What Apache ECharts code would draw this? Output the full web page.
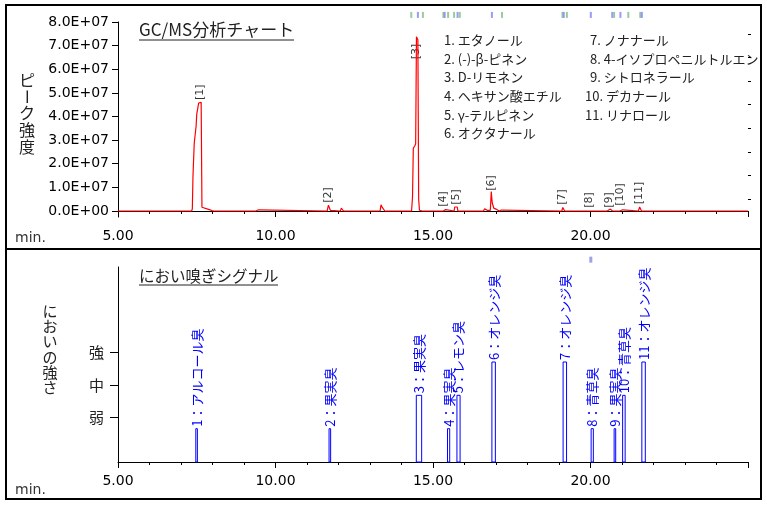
<!DOCTYPE html>
<html><head><meta charset="utf-8">
<script src="https://cdn.jsdelivr.net/npm/echarts@6/dist/echarts.min.js"></script>
<style>html,body{margin:0;padding:0;background:#fff}#c{width:767px;height:506px}</style>
</head><body><div id="c"></div>
<script>
// ---- Chromatogram (GC/MS) trace ----
const rtTimes = [5.00,7.34,7.36,7.375,7.38,7.41,7.42,7.47,7.48,7.50,7.55,7.56,7.64,7.665,7.70,7.90,7.98,8.05,
  9.38,9.42,9.46,9.50,11.64,11.68,11.71,11.74,11.80,12.06,12.09,12.13,12.16,12.89,12.92,12.95,
  13.32,13.35,13.39,13.43,13.47,14.32,14.34,14.35,14.37,14.375,14.42,14.45,14.475,14.50,14.52,14.545,14.57,14.62,14.66,14.70,14.74,
  15.33,15.36,15.40,15.43,15.67,15.69,15.77,15.79,16.40,16.43,16.46,16.60,16.64,16.69,16.72,
  16.82,16.85,16.87,16.88,16.93,16.97,17.00,17.05,17.10,17.17,17.20,
  19.09,19.12,19.15,19.18,19.61,19.64,19.67,20.32,20.35,20.38,20.53,20.56,20.59,20.63,20.67,20.70,
  20.93,20.97,21.02,21.06,21.52,21.56,21.59,21.62,25.00];
const rtIntensity = [0,0,1.0e6,1.2e6,1.46e7,1.5e7,2.87e7,2.95e7,3.6e7,4.1e7,4.15e7,4.57e7,4.6e7,1.6e6,1.0e6,0.6e6,0.2e6,0,
  0,0.8e6,0.5e6,0,0,2.5e6,2.3e6,0.3e6,0,0,1.2e6,1.1e6,0,0,0.4e6,0,
  0,2.6e6,1.5e6,1.3e6,0,0,0.3e6,6.0e6,6.2e6,2.66e7,2.75e7,2.85e7,7.38e7,7.30e7,7.25e7,0.5e7,0.3e6,0.1e6,0,0.3e6,0,
  0,0.8e6,0.6e6,0,0,1.7e6,1.7e6,0,0,0.6e6,0,0,0.9e6,1.0e6,0.3e6,
  0.3e6,8.2e6,8.0e6,3.5e6,1.2e6,0.4e6,0.8e6,0.6e6,0,0.4e6,0,
  0,1.5e6,1.2e6,0,0,0.4e6,0,0,0.4e6,0,0,0.7e6,0.3e6,0.8e6,0.5e6,0,
  0,0.8e6,0.5e6,0,0,1.7e6,1.2e6,0,0];
// peak number labels [n]
const peakLabelTimes = [7.60,11.67,14.48,15.31,15.74,16.85,19.11,19.95,20.59,20.95,21.56];
const peakLabelHeights = [5.03e7,0.68e7,6.75e7,0.51e7,0.59e7,1.19e7,0.59e7,0.47e7,0.47e7,0.70e7,0.76e7];
// compound list
const compoundNames = ['エタノール','(-)-β-ピネン','D-リモネン','ヘキサン酸エチル','γ-テルピネン','オクタナール',
  'ノナナール','4-イソプロペニルトルエン','シトロネラール','デカナール','リナロール'];
// small marker ticks above the chromatogram
const markerTimes = [14.31,14.52,14.68,15.33,15.37,15.48,15.67,15.78,15.85,16.87,17.19,19.11,19.15,19.25,20.01,20.69,20.75,20.95,21.20,21.58,21.63];
const markerKinds = ['g','b','g','g','b','g','g','b','g','b','g','g','b','g','b','b','g','b','g','g','b'];
const bottomMarkerTimes = [20.01];
// ---- Olfactometry (sniffing) signals ----
const signalStart = [7.47,11.70,14.47,15.46,15.76,16.87,19.13,20.02,20.75,21.02,21.63];
const signalEnd   = [7.52,11.75,14.64,15.53,15.86,16.98,19.24,20.09,20.80,21.10,21.74];
const signalLevel = [1,1,2,1,2,3,3,1,1,2,3];
const odorNames = ['アルコール臭','果実臭','果実臭','果実臭','レモン臭','オレンジ臭','オレンジ臭','青草臭','果実臭','青草臭','オレンジ臭'];
// ---- axis ticks ----
const intensityTicks = [0,1e7,2e7,3e7,4e7,5e7,6e7,7e7,8e7];
const intensityMinorTicks = [5e6,1.5e7,2.5e7,3.5e7,4.5e7,5.5e7,6.5e7,7.5e7];
const timeLabelTicks = [5,10,15,20];
const timeMajorTicks = [5,10,15,20,25];
const timeMinorTicks = [6,7,8,9,11,12,13,14,16,17,18,19,21,22,23,24];
const levelTickValues = [1.35,2.3,3.3];
const levelTickLabels = ['弱','中','強'];

const JP = '"Noto Sans CJK JP"';
const NUMF = 'DejaVu Sans';
function sci(v){ if(v===0) return '0.0E+00'; const e=Math.floor(Math.log10(Math.abs(v))+1e-9); const m=v/Math.pow(10,e); return m.toFixed(1)+'E+'+String(e).padStart(2,'0'); }

const chart = echarts.init(document.getElementById('c'));
const graphics = [];
graphics.push({type:'rect',shape:{x:6,y:5,width:755,height:494},style:{fill:'none',stroke:'#000',lineWidth:2},silent:true});
graphics.push({type:'line',shape:{x1:6,y1:249,x2:761,y2:249},style:{stroke:'#000',lineWidth:2},silent:true});
// titles
graphics.push({type:'text',x:139,y:30,style:{text:'GC/MS分析チャート',font:'17px '+JP,fill:'#222',align:'left',verticalAlign:'middle'}});
graphics.push({type:'line',shape:{x1:139,y1:40,x2:294,y2:40},style:{stroke:'#222',lineWidth:1}});
graphics.push({type:'text',x:139,y:276,style:{text:'におい嗅ぎシグナル',font:'15.5px '+JP,fill:'#222',align:'left',verticalAlign:'middle'}});
graphics.push({type:'line',shape:{x1:139,y1:285,x2:278,y2:285},style:{stroke:'#222',lineWidth:1}});
// compound list
compoundNames.forEach((n,i)=>{
  const col = i<6?0:1, row = i<6?i:i-6;
  const num = (i+1)+'. ';
  const x = col===0?444:(i+1>=10?585:590);
  graphics.push({type:'text',x:x,y:40+row*18.7,style:{text:num+n,font:'13px '+JP,fill:'#222',align:'left',verticalAlign:'middle'}});
});
// vertical axis titles
'ピーク強度'.split('').forEach((ch,i)=>{
  graphics.push({type:'text',x:27,y:80+i*16.7,rotation:ch==='ー'?-Math.PI/2:0,style:{text:ch,font:'16px '+JP,fill:'#222',align:'center',verticalAlign:'middle'}});
});
'においの強さ'.split('').forEach((ch,i)=>{
  graphics.push({type:'text',x:50,y:311+i*15.3,style:{text:ch,font:'15px '+JP,fill:'#222',align:'center',verticalAlign:'middle'}});
});
graphics.push({type:'text',x:15,y:238,style:{text:'min.',font:'14px '+NUMF,fill:'#333',align:'left',verticalAlign:'middle'}});
graphics.push({type:'text',x:15,y:490,style:{text:'min.',font:'14px '+NUMF,fill:'#333',align:'left',verticalAlign:'middle'}});

const axisLineStyle = {show:true,lineStyle:{color:'#000',width:1}};
function timeAxis(grid, minor){
  return {type:'value',gridIndex:grid,min:5,max:25,position:'bottom',
    axisLine: minor?{show:false}:axisLineStyle,
    axisTick:{show:true,length:minor?3:6,customValues:minor?timeMinorTicks:timeMajorTicks,lineStyle:{color:'#000'}},
    axisLabel: minor?{show:false}:{show:true,customValues:timeLabelTicks,formatter:v=>v.toFixed(2),color:'#000',fontFamily:NUMF,fontSize:14,margin:12},
    splitLine:{show:false}};
}
const option = {
  animation:false,
  backgroundColor:'#fff',
  graphic:graphics,
  grid:[{left:118,right:19,top:22,bottom:289,containLabel:false},{left:118,right:19,top:267,bottom:44,containLabel:false}],
  xAxis:[timeAxis(0,false),timeAxis(0,true),timeAxis(1,false),timeAxis(1,true)],
  yAxis:[
    {type:'value',gridIndex:0,min:-2.54e6,max:8e7,axisLine:axisLineStyle,
     axisTick:{show:true,length:6,customValues:intensityTicks,lineStyle:{color:'#000'}},
     axisLabel:{show:true,customValues:intensityTicks,formatter:sci,color:'#000',fontFamily:NUMF,fontSize:14,margin:9},
     splitLine:{show:false}},
    {type:'value',gridIndex:0,min:-2.54e6,max:8e7,axisLine:{show:false},
     axisTick:{show:true,length:3,customValues:intensityMinorTicks,lineStyle:{color:'#000'}},
     axisLabel:{show:false},splitLine:{show:false}},
    {type:'value',gridIndex:1,min:0,max:5.85,axisLine:axisLineStyle,
     axisTick:{show:true,length:8,customValues:levelTickValues,lineStyle:{color:'#000'}},
     axisLabel:{show:true,customValues:levelTickValues,formatter:v=>{let b=0;levelTickValues.forEach((t,i)=>{if(Math.abs(t-v)<Math.abs(levelTickValues[b]-v))b=i;});return levelTickLabels[b];},
       color:'#222',fontFamily:'Noto Sans CJK JP',fontSize:15,margin:14},
     splitLine:{show:false}}
  ],
  series:[
    {type:'line',xAxisIndex:0,yAxisIndex:0,data:rtTimes.map((t,i)=>[t,rtIntensity[i]]),showSymbol:false,symbol:'none',
     lineStyle:{color:'#ff0000',width:1.2},clip:true},
    {type:'scatter',xAxisIndex:0,yAxisIndex:0,symbolSize:1,itemStyle:{color:'transparent'},clip:false,
     data:peakLabelTimes.map((t,i)=>[t,peakLabelHeights[i]]),
     label:{show:true,position:'inside',rotate:90,formatter:p=>'['+(p.dataIndex+1)+']',color:'#000',fontFamily:NUMF,fontSize:11}},
    {type:'scatter',xAxisIndex:0,yAxisIndex:0,symbol:'rect',symbolSize:[2,6],clip:false,
     data:markerTimes.map((t,i)=>({value:[t,8.3e7],itemStyle:{color:markerKinds[i]==='g'?'#7fbf7f':'#8080ff'}}))},
    {type:'scatter',xAxisIndex:2,yAxisIndex:2,symbol:'rect',symbolSize:[3,6],clip:false,
     data:bottomMarkerTimes.map(t=>({value:[t,6.07],itemStyle:{color:'#8a8ae0'}}))},
    {type:'custom',xAxisIndex:2,yAxisIndex:2,clip:false,
     data:signalStart.map((s,i)=>[s,signalEnd[i],signalLevel[i],i]),
     renderItem:(params,api)=>{
       const i = api.value(3);
       const p0 = api.coord([api.value(0),0]);
       const p1 = api.coord([api.value(1),api.value(2)]);
       const w = Math.max(p1[0]-p0[0],1);
       const cx = (p0[0]+p1[0])/2;
       return {type:'group',children:[
         {type:'rect',shape:{x:p0[0],y:p1[1],width:w,height:p0[1]-p1[1]},style:{fill:'#fff',stroke:'#0000ff',lineWidth:1}},
         {type:'text',x:cx,y:p1[1]-2,rotation:Math.PI/2,
          style:{text:(i+1)+'：'+odorNames[i],fill:'#0000ff',font:'13px '+JP,align:'left',verticalAlign:'middle'}}
       ]};
     }}
  ]
};
chart.setOption(option);
</script></body></html>
